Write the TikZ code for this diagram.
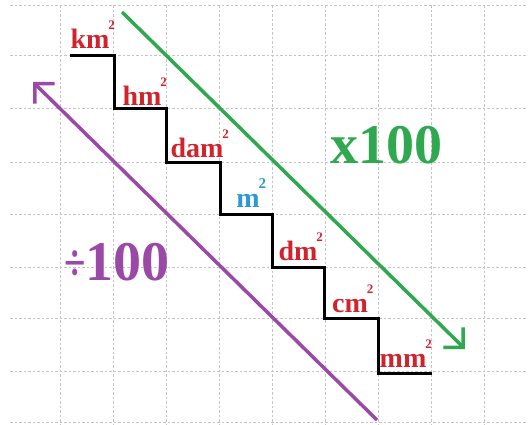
\documentclass[tikz,border=0pt]{standalone}
\usepackage{fontspec}
\setmainfont{Liberation Serif}
\usepackage{tikz}
\usetikzlibrary{arrows.meta}
\definecolor{UnitRed}{HTML}{D1232B}
\definecolor{UnitBlue}{HTML}{2A9AD6}
\definecolor{MulGreen}{HTML}{2FA84F}
\definecolor{DivPurple}{HTML}{9A4AA6}
\definecolor{GridGray}{HTML}{C4C4C4}
% small raised 2 after a unit
\newcommand{\supsq}[1][13]{\rlap{\kern-1pt\raisebox{19pt}{\fontsize{#1}{#1}\selectfont 2}}}

\begin{document}
\begin{tikzpicture}[x=1pt, y=-1pt,
  gridline/.style={GridGray, dash pattern=on 2.5pt off 2pt, line width=0.7pt},
  stair/.style={black, line width=3pt, line join=miter},
  unit/.style={font=\bfseries\fontsize{28}{28}\selectfont, text=UnitRed, anchor=base, inner sep=0pt},
  factor/.style={font=\bfseries\fontsize{56}{56}\selectfont, anchor=base, inner sep=0pt},
  trend/.style={line width=3.5pt, -{Straight Barb[length=14pt, width=28pt]}}
]
\useasboundingbox (0,0) rectangle (528,424);

% Grid
\foreach \gx in {60,113,166,219,272,325,378,431,484}
  \draw[gridline] (\gx,5) -- (\gx,424);
\foreach \gy in {5,55,108,162,214,267,318,371,422}
  \draw[gridline] (10,\gy) -- (528,\gy);

% Staircase
\draw[stair] (70,55) -| (114,108) -| (166,162) -| (220,214) -| (272,267)
  -| (324,318) -| (378,373) -- (432,373);

% Units
\node[unit] (km)  at (90,48)   {km\supsq};
\node[unit] (hm)  at (142,105) {hm\supsq};
\node[unit] (dam) at (197,157) {dam\supsq};
\node[unit, text=UnitBlue] (m) at (248,207) {m\supsq[15]};
\node[unit] (dm)  at (298,260) {dm\supsq};
\node[unit] (cm)  at (350,312) {cm\supsq};
\node[unit] (mm)  at (403,367) {mm\supsq};

% Arrows
\coordinate (mulStart) at (122,12);
\coordinate (mulEnd)   at (465,349);
\coordinate (divStart) at (377,420);
\coordinate (divEnd)   at (33,82);
\draw[trend, MulGreen]  (mulStart) -- (mulEnd);
\draw[trend, DivPurple] (divStart) -- (divEnd);

\node[factor, text=MulGreen]  (mul) at (386,163) {x100};
\node[factor, text=DivPurple] (div) at (117,280)
  {\scalebox{0.75}[1]{\fontsize{52}{52}\selectfont ÷}100};

\end{tikzpicture}
\end{document}
